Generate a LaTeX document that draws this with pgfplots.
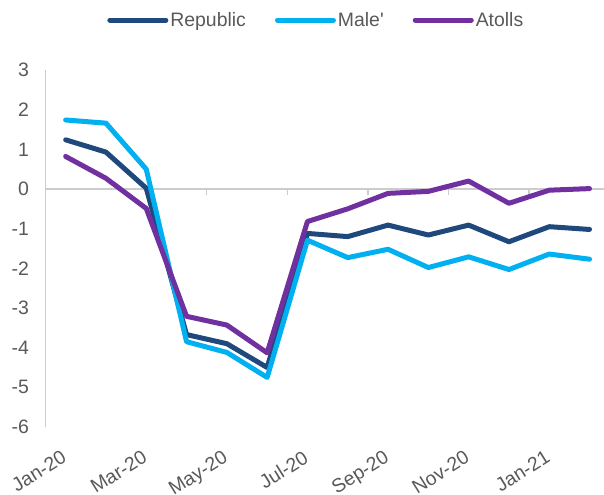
\documentclass[border=0pt]{standalone}
\usepackage{pgfplots}
\pgfplotsset{compat=1.18}
\usepackage{fontspec}
\setmainfont{Liberation Sans}

\definecolor{republic}{HTML}{1F497D}
\definecolor{male}{HTML}{00B0F0}
\definecolor{atolls}{HTML}{7030A0}
\definecolor{txt}{HTML}{595959}
\definecolor{axisgray}{HTML}{CCCCCC}

\begin{document}
\begin{tikzpicture}
\begin{axis}[
  at={(45.5bp,68bp)}, anchor=south west,
  scale only axis,
  width=564.2bp, height=357bp,
  xmin=-0.5, xmax=13.5,
  ymin=-6, ymax=3,
  axis lines*=left,
  x axis line style={draw=none},
  y axis line style={draw=axisgray, line width=1.5bp},
  xtick={0,2,...,12},
  xticklabels={Jan-20,Mar-20,May-20,Jul-20,Sep-20,Nov-20,Jan-21},
  ytick={-6,-5,...,3},
  major tick length=0pt,
  tick style={draw=none},
  font=\fontsize{19.5}{23}\selectfont,
  tick label style={text=txt},
  /pgf/number format/assume math mode=true,
  yticklabel style={xshift=-13bp},
  xticklabel style={rotate=32, anchor=north east, yshift=-13bp, xshift=-13bp},
  extra y ticks={0},
  extra y tick labels={},
  extra y tick style={grid=major, major grid style={draw=axisgray, line width=1.5bp}},
  legend columns=3,
  legend style={at={(axis description cs:0.48,1.14)}, anchor=center,
    draw=none, fill=none, text=txt,
    font=\fontsize{19.5}{23}\selectfont,
    /tikz/every even column/.append style={column sep=27bp},
    nodes={inner sep=2bp}},
  legend image code/.code={\draw[#1, line cap=round] (0bp,0bp) -- (56bp,0bp);},
  every axis plot/.append style={line width=5bp, line join=round, line cap=round},
]
\pgfplotsinvokeforeach{-0.5,1.5,3.5,5.5,7.5,9.5,11.5}{
  \draw[draw=axisgray, line width=1.5bp] (axis cs:#1,0) -- ([yshift=-6bp]axis cs:#1,0);
}
\addplot[republic] coordinates {
  (0,1.24) (1,0.93) (2,0.02) (3,-3.67) (4,-3.90) (5,-4.50) (6,-1.12)
  (7,-1.20) (8,-0.91) (9,-1.16) (10,-0.91) (11,-1.33) (12,-0.95) (13,-1.02)
};
\addlegendentry{Republic}
\addplot[male] coordinates {
  (0,1.74) (1,1.66) (2,0.50) (3,-3.85) (4,-4.12) (5,-4.75) (6,-1.29)
  (7,-1.73) (8,-1.52) (9,-1.98) (10,-1.71) (11,-2.03) (12,-1.64) (13,-1.77)
};
\addlegendentry{Male\textquotesingle}
\addplot[atolls] coordinates {
  (0,0.82) (1,0.27) (2,-0.49) (3,-3.21) (4,-3.43) (5,-4.13) (6,-0.82)
  (7,-0.50) (8,-0.11) (9,-0.06) (10,0.20) (11,-0.36) (12,-0.03) (13,0.01)
};
\addlegendentry{Atolls}
\end{axis}
\pgfresetboundingbox
\path (0,0) rectangle (604bp,495bp);
\end{tikzpicture}
\end{document}
